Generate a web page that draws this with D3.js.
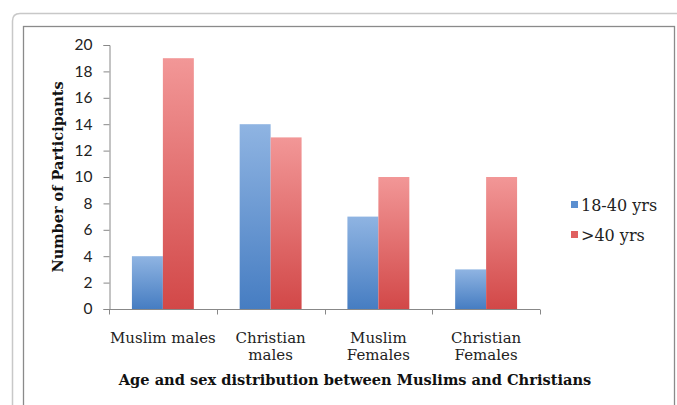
<!DOCTYPE html>
<html><head><meta charset="utf-8">
<script src="https://cdn.jsdelivr.net/npm/d3@7"></script>
<style>body{margin:0;background:#fff}svg{display:block}</style>
</head><body>
<script>
const categories = [["Muslim males"], ["Christian", "males"], ["Muslim", "Females"], ["Christian", "Females"]];
const seriesNames = ["18-40 yrs", ">40 yrs"];
const young = [4, 14, 7, 3];
const old = [19, 13, 10, 10];
const yTicks = [0, 2, 4, 6, 8, 10, 12, 14, 16, 18, 20];
const yTitle = "Number of Participants";
const xTitle = "Age and sex distribution between Muslims and Christians";

const W = 677, H = 405;
const svg = d3.select("body").append("svg").attr("width", W).attr("height", H);

// frames
svg.append("path").attr("d", "M12.5,420 L12.5,21 Q12.5,13.5 20,13.5 L690,13.5")
  .attr("fill", "none").attr("stroke", "#c8c8c8").attr("stroke-width", 1.5);
svg.append("rect").attr("x", 23.5).attr("y", 26.5).attr("width", 651).attr("height", 400)
  .attr("fill", "#fff").attr("stroke", "#8a8a8a").attr("stroke-width", 1.3);

const defs = svg.append("defs");
const gradB = defs.append("linearGradient").attr("id", "gb").attr("x1", 0).attr("y1", 0).attr("x2", 0).attr("y2", 1);
gradB.append("stop").attr("offset", "0%").attr("stop-color", "#8fb4e2");
gradB.append("stop").attr("offset", "100%").attr("stop-color", "#467dc2");
const gradR = defs.append("linearGradient").attr("id", "gr").attr("x1", 0).attr("y1", 0).attr("x2", 0).attr("y2", 1);
gradR.append("stop").attr("offset", "0%").attr("stop-color", "#f29797");
gradR.append("stop").attr("offset", "100%").attr("stop-color", "#d24848");
const fills = ["url(#gb)", "url(#gr)"];
const legendFills = ["#5b8fd0", "#e06060"];

const x0 = d3.scaleBand().domain(d3.range(categories.length)).range([109, 540]).padding(0);
const x1 = d3.scaleBand().domain(seriesNames).range([0, x0.bandwidth()]).paddingInner(0).paddingOuter(0.74);
const y = d3.scaleLinear().domain([0, 20]).range([309, 45]);

const data = categories.map((c, i) => [young[i], old[i]]);

const g = svg.append("g");
data.forEach((vals, i) => {
  vals.forEach((v, j) => {
    g.append("rect")
      .attr("x", x0(i) + x1(seriesNames[j]))
      .attr("y", y(v))
      .attr("width", x1.bandwidth())
      .attr("height", y(0) - y(v))
      .attr("fill", fills[j]);
  });
});

// y axis
const yAxis = d3.axisLeft(y).tickValues(yTicks).tickSize(6).tickPadding(11);
const ya = svg.append("g").attr("transform", "translate(109.5,0)").call(yAxis);
ya.select(".domain").attr("stroke", "#888");
ya.selectAll(".tick line").attr("stroke", "#888");
ya.selectAll("text").attr("font-family", "Lato, 'Open Sans', sans-serif").attr("font-size", 15.5).attr("fill", "#222");

// x axis
const xa = svg.append("g").attr("transform", "translate(0,309.5)");
xa.append("line").attr("x1", 109).attr("x2", 540).attr("stroke", "#888");
d3.range(categories.length + 1).forEach(i => {
  const xx = i < categories.length ? x0(i) : x0.range()[1];
  xa.append("line").attr("x1", Math.round(xx) + 0.5).attr("x2", Math.round(xx) + 0.5).attr("y1", 0).attr("y2", 5).attr("stroke", "#888");
});
categories.forEach((lines, i) => {
  const t = xa.append("text").attr("text-anchor", "middle")
    .attr("font-family", "'DejaVu Serif', serif").attr("font-size", 15).attr("fill", "#222");
  lines.forEach((ln, k) => {
    t.append("tspan").attr("x", x0(i) + x0.bandwidth() / 2).attr("y", 33 + k * 17).text(ln);
  });
});

// titles
svg.append("text").attr("x", 355).attr("y", 385).attr("text-anchor", "middle")
  .attr("font-family", "'DejaVu Serif', serif").attr("font-weight", "bold").attr("font-size", 14.6)
  .attr("fill", "#111").text(xTitle);
svg.append("text").attr("transform", "translate(63,177) rotate(-90)").attr("text-anchor", "middle")
  .attr("font-family", "'DejaVu Serif', serif").attr("font-weight", "bold").attr("font-size", 14.5)
  .attr("fill", "#111").text(yTitle);

// legend
const lg = svg.append("g");
seriesNames.forEach((s, i) => {
  const yy = 205 + i * 30;
  lg.append("rect").attr("x", 571).attr("y", yy - 4).attr("width", 7).attr("height", 7).attr("fill", legendFills[i]);
  lg.append("text").attr("x", 581).attr("y", yy + 5.5).attr("font-family", "'DejaVu Serif', serif")
    .attr("font-size", 16).attr("fill", "#222").text(s);
});
</script>
</body></html>
